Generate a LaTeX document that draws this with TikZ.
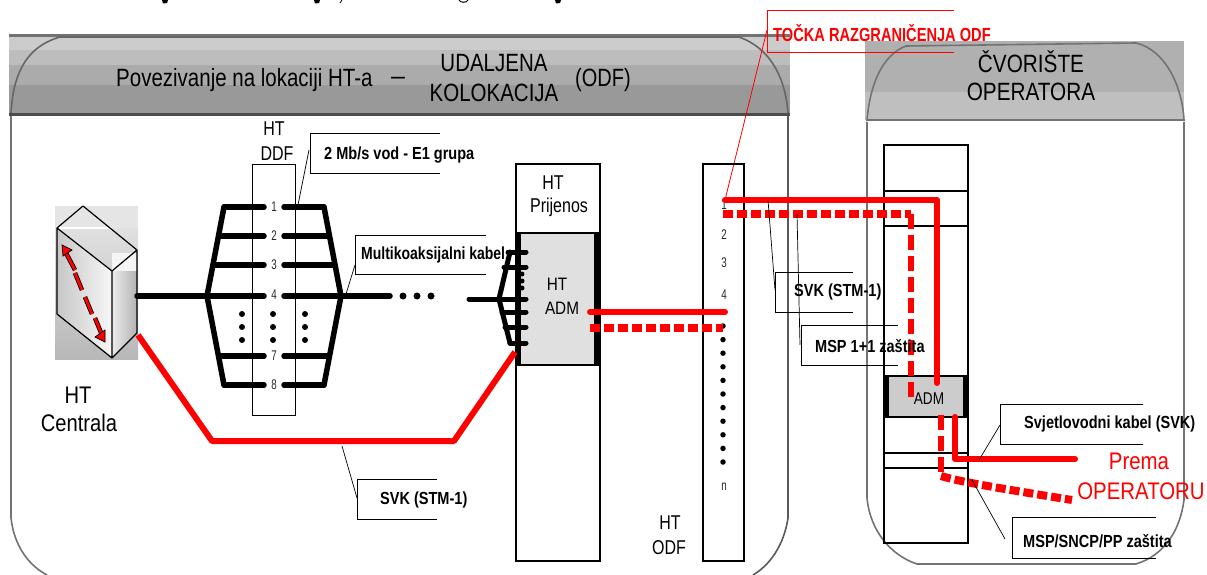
\documentclass[tikz,border=0pt]{standalone}
\usepackage{fontspec}
\setmainfont{Liberation Sans}
\usetikzlibrary{calc}
\definecolor{hred}{RGB}{255,0,0}
\newcommand{\nar}[2]{\scalebox{#1}[1]{#2}}
\tikzset{
  x=1pt,y=-1pt,
  frameline/.style={draw=black!60,line width=1.6pt},
  bline/.style={draw=black,line width=5.5pt,line cap=round,line join=round},
  rline/.style={draw=hred,line width=6pt,line cap=round,line join=round},
  rdots/.style={draw=hred,line width=8pt,dash pattern=on 10pt off 4pt},
  rdash/.style={draw=hred,line width=6pt,dash pattern=on 15pt off 6pt},
  rack/.style={draw=black,line width=1.5pt},
  lead/.style={draw=black,line width=.7pt},
  big/.style={inner sep=0pt,font=\fontsize{25}{25}\selectfont},
  lab/.style={inner sep=0pt,font=\fontsize{20}{20}\selectfont},
  small/.style={inner sep=0pt,font=\fontsize{18}{18}\selectfont},
  num/.style={inner sep=0pt,font=\fontsize{14}{14}\selectfont,text=black!85},
  call/.style={inner sep=0pt,anchor=west,font=\bfseries\fontsize{17.5}{18}\selectfont},
  dotb/.style={fill=black,draw=none,circle,minimum size=6pt,inner sep=0pt},
}
\begin{document}
\begin{tikzpicture}
\useasboundingbox (0,0) rectangle (1207,575);
\clip (0,0) rectangle (1207,575);
% cut-off descenders along the top edge
\foreach \xx in {165,317,558}{\fill (\xx-3,0) -- (\xx+3,0) -- (\xx+2,3) -- (\xx-2,3.5) -- cycle;}
\draw[line width=.8pt] (340,3) -- (342,0);
\draw[line width=1pt] (459,0) .. controls (460,3) and (467,3) .. (468,0);
% left header bands
\fill[black!20] (9,37) rectangle (790,50);
\fill[black!26] (9,50) rectangle (790,65);
\fill[black!33] (9,65) rectangle (790,85);
\fill[black!40] (9,85) rectangle (790,113);
\fill[black!55] (9,34) rectangle (790,37);
\fill[black!70] (9,113) rectangle (790,116);
\path[frameline] (11,113) .. controls (13,80) and (22,48) .. (60,37) -- (739,37) .. controls (775,50) and (786,85) .. (788,113);
% right header bands
\fill[black!31] (865,41) rectangle (1184,92);
\fill[black!25] (865,92) rectangle (1184,120);
\path[frameline,draw=black!55] (867,120) .. controls (870,85) and (882,55) .. (906,46) -- (1136,43) .. controls (1165,50) and (1182,85) .. (1184,120) -- cycle;
% body frames
\path[frameline,draw=black!55] (11,116) -- (11,518) .. controls (14,545) and (28,565) .. (47,575);
\path[frameline,draw=black!65] (788,116) -- (788,518) .. controls (784,545) and (770,565) .. (753,575);
\path[frameline,draw=black!55] (867,122) -- (867,498) .. controls (870,530) and (890,555) .. (917,564) -- (1136,564) .. controls (1165,555) and (1180,530) .. (1184,500) -- (1184,122);
% red callout
\path[draw=hred,line width=.8pt] (954,10) -- (767,10) -- (767,52) -- (954,52);
\coordinate (rcall) at (767,30);
\coordinate (odf1) at (725,200);
\path[draw=hred,line width=.8pt] (rcall) -- (odf1);
\node[call,text=hred,font=\bfseries\fontsize{19}{19}\selectfont] (ttock) at (773,33) {\nar{.77}{TOČKA RAZGRANIČENJA ODF}};
% titles
\node[big,anchor=west] (t1) at (116,80) {\nar{.82}{Povezivanje na lokaciji HT-a}};
\node[big] (t2) at (398,81) {–};
\node[big] (t3) at (494,63) {\nar{.82}{UDALJENA}};
\node[big] (t4) at (494,93) {\nar{.82}{KOLOKACIJA}};
\node[big] (t5) at (603,80) {\nar{.8}{(ODF)}};
\node[big] (t6) at (1031,62) {\nar{.83}{ČVORIŠTE}};
\node[big] (t7) at (1031,92) {\nar{.83}{OPERATORA}};
% cube
\fill[black!10] (55,206) rectangle (138,228);
\shade[top color=black!12,bottom color=black!28] (55,228) rectangle (138,359);
\shade[left color=black!22,right color=black!3] (57,228) -- (112,271) -- (112,358) -- (57,314) -- cycle;
\shade[left color=black!8,right color=black!30] (112,271) -- (137,250) -- (137,333) -- (112,358) -- cycle;
\fill[black!4] (112,253) rectangle (137,271);
\fill[white] (57,227) rectangle (112,228.5);
\path[draw=black,line width=1.2pt,line join=round] (57,228) -- (83,206) -- (137,250) -- (137,333) -- (112,358) -- (57,314) -- cycle (57,228) -- (112,271) -- (137,250) (112,271) -- (112,358);
\foreach \a/\b in {{66,253}/{75,270},{75,273}/{82,290},{85,297}/{92,314},{95,318}/{102,335}}{
  \draw[black,line width=4.5pt] (\a) -- (\b);
  \draw[hred,line width=2.8pt] (\a) -- (\b);
}
\path[draw=black,fill=hred,line width=.7pt] (62,245) -- (72,250) -- (63,256) -- cycle;
\path[draw=black,fill=hred,line width=.7pt] (105,342) -- (95,337) -- (105,330) -- cycle;
\node[big,font=\fontsize{24}{24}\selectfont] (c1) at (78,395) {\nar{.84}{HT}};
\node[big,font=\fontsize{24}{24}\selectfont] (c2) at (79,423) {\nar{.84}{Centrala}};
% DDF
\node[lab] (d1) at (274,129) {\nar{.8}{HT}};
\node[lab] (d2) at (277,154) {\nar{.8}{DDF}};
\path[rack,line width=1pt] (252.5,164) rectangle (295,415);
\path[bline] (224,207) -- (207,296) -- (224,385);
\path[bline] (324,207) -- (341,296) -- (324,385);
\foreach \yy/\xl/\xr/\n in {207/224/324/1,236/219/329/2,265/213/335/3,356/219/329/7,385/224/324/8}{
  \draw[bline] (\xl,\yy) -- (264,\yy);
  \draw[bline] (284,\yy) -- (\xr,\yy);
  \node[num] (ddf\n) at (274,\yy) {\nar{.7}{\n}};
}
\node[num] (ddf4) at (274,295) {\nar{.7}{4}};
\coordinate (cen) at (137,296);
\coordinate (ddfL) at (264,296);
\coordinate (ddfR) at (284,296);
\coordinate (ddfE) at (390,296);
\path[bline] (cen) -- (ddfL) (ddfR) -- (ddfE);
\foreach \xx in {242,273,305}{\foreach \yy in {314,327,340}{\node[dotb] (dd\xx\yy) at (\xx,\yy) {};}}
\foreach \xx in {403,417,431}{\node[dotb,minimum size=7pt] (hh\xx) at (\xx,296) {};}
% HT Prijenos
\path[rack] (516,164) rectangle (600,561);
\path[fill=black!12,draw=black,line width=1.5pt] (516,233) rectangle (600,365);
\fill (516,233) rectangle (521,365);
\fill (594,233) rectangle (600,365);
\node[lab] (p1) at (553,183) {\nar{.8}{HT}};
\node[lab] (p2) at (559,207) {\nar{.8}{Prijenos}};
\node[small] (p3) at (557,284) {\nar{.85}{HT}};
\node[small] (p4) at (562,308) {\nar{.85}{ADM}};
\path[bline,line width=5pt] (510,252) -- (499,299) -- (510,343);
\foreach \yy/\xl in {252/508,267/504,312/502,327/505,343/510}{\draw[bline,line width=5pt] (\xl,\yy) -- (526,\yy);}
\path[bline,line width=5pt] (469,299) -- (526,299);
\foreach \yy in {274,281,288}{\node[dotb,minimum size=5pt] (pd\yy) at (522,\yy) {};}
% ODF
\path[rack] (703,164) rectangle (744,561);
\foreach \yy/\n in {205/1,235/2,263/3,295/4,487/n}{\node[num] (odfn\n) at (724,\yy) {\nar{.7}{\n}};}
\foreach \i in {0,...,10}{\node[dotb,minimum size=5.5pt] (od\i) at (723,326+13.6*\i) {};}
\node[lab] (o1) at (670,523) {\nar{.8}{HT}};
\node[lab] (o2) at (669,548) {\nar{.8}{ODF}};
% operator rack
\path[rack] (884,145) rectangle (968,543);
\path[rack] (884,191) -- (968,191) (884,226) -- (968,226) (884,453) -- (968,453) (884,468) -- (968,468);
\path[fill=black!20,draw=black,line width=1.5pt] (884,376) rectangle (968,417);
\fill (884,376) rectangle (889,417);
\fill (963,376) rectangle (968,417);
\node[small,font=\fontsize{17}{17}\selectfont] (a1) at (929,399) {\nar{.8}{ADM}};
% bottom red line
\coordinate (r1) at (138,335);
\coordinate (r2) at (515,352);
\path[rline,line cap=butt] (r1) -- (212,441) -- (454,441) -- (r2);
% HT ADM to ODF
\coordinate (ra) at (590,312);
\coordinate (rb) at (725,312);
\coordinate (rc) at (590,328);
\coordinate (rd) at (723,328);
\path[rline] (ra) -- (rb);
\path[rdots] (rc) -- (rd);
% ODF to operator
\coordinate (tr) at (937,200);
\coordinate (adm1) at (937,383);
\path[rline] (odf1) -- (tr) -- (adm1);
\coordinate (od2) at (723,214);
\coordinate (tr2) at (911,214);
\coordinate (adm2) at (911,397);
\path[rdots] (od2) -- (tr2);
\path[rdash] (tr2) -- (adm2);
% operator out
\coordinate (ou1) at (955,417);
\coordinate (ou2) at (1075,459);
\path[rline] (ou1) -- (955,459) -- (ou2);
\coordinate (ou3) at (941,415);
\coordinate (ou4) at (941,476);
\coordinate (ou5) at (1072,500);
\path[rdash] (ou3) -- (ou4);
\path[rdots] (ou4) .. controls (960,482) and (1010,490) .. (ou5);
\node[big,text=hred,font=\fontsize{24}{24}\selectfont] (pr1) at (1139,461) {\nar{.85}{Prema}};
\node[big,text=hred,font=\fontsize{24}{24}\selectfont] (pr2) at (1141,491) {\nar{.85}{OPERATORU}};
% callouts
\path[lead] (440,133) -- (310,133) -- (310,173) -- (440,173);
\node[call] (c2mb) at (324,155) {\nar{.83}{2 Mb/s vod - E1 grupa}};
\coordinate (l1) at (309,150); \coordinate (l1b) at (298,205);
\path[lead] (l1) -- (l1b);
\path[lead] (486,235) -- (355,235) -- (355,274) -- (486,274);
\node[call] (cmk) at (361,255) {\nar{.8}{Multikoaksijalni kabel}};
\coordinate (l2) at (355,265); \coordinate (l2b) at (346,294);
\path[lead] (l2) -- (l2b);
\path[lead] (437,479) -- (357,479) -- (357,519) -- (437,519);
\node[call] (csv1) at (380,500) {\nar{.83}{SVK (STM-1)}};
\coordinate (l3) at (357,498); \coordinate (l3b) at (342,446);
\path[lead] (l3) -- (l3b);
\path[lead] (853,272) -- (775,272) -- (775,312) -- (853,312);
\node[call] (csv2) at (794,292) {\nar{.83}{SVK (STM-1)}};
\coordinate (l4) at (775,290); \coordinate (l4b) at (768,200);
\path[lead] (l4) -- (l4b);
\path[lead] (898,325) -- (801,325) -- (801,365) -- (898,365);
\node[call] (cmsp) at (815,346) {\nar{.83}{MSP 1+1 zaštita}};
\coordinate (l5) at (800,345); \coordinate (l5b) at (797,214);
\path[lead] (l5) -- (l5b);
\path[lead] (1143,404) -- (1000,404) -- (1000,444) -- (1143,444);
\node[call] (csvj) at (1024,424) {\nar{.83}{Svjetlovodni kabel (SVK)}};
\coordinate (l6) at (1000,425); \coordinate (l6b) at (979,460);
\path[lead] (l6) -- (l6b);
\path[lead] (1156,517) -- (1012,517) -- (1012,558) -- (1156,558);
\node[call] (cmsn) at (1023,541) {\nar{.83}{MSP/SNCP/PP zaštita}};
\coordinate (l7) at (1005,539); \coordinate (l7b) at (972,480);
\path[lead] (l7) -- (l7b);
\end{tikzpicture}
\end{document}
